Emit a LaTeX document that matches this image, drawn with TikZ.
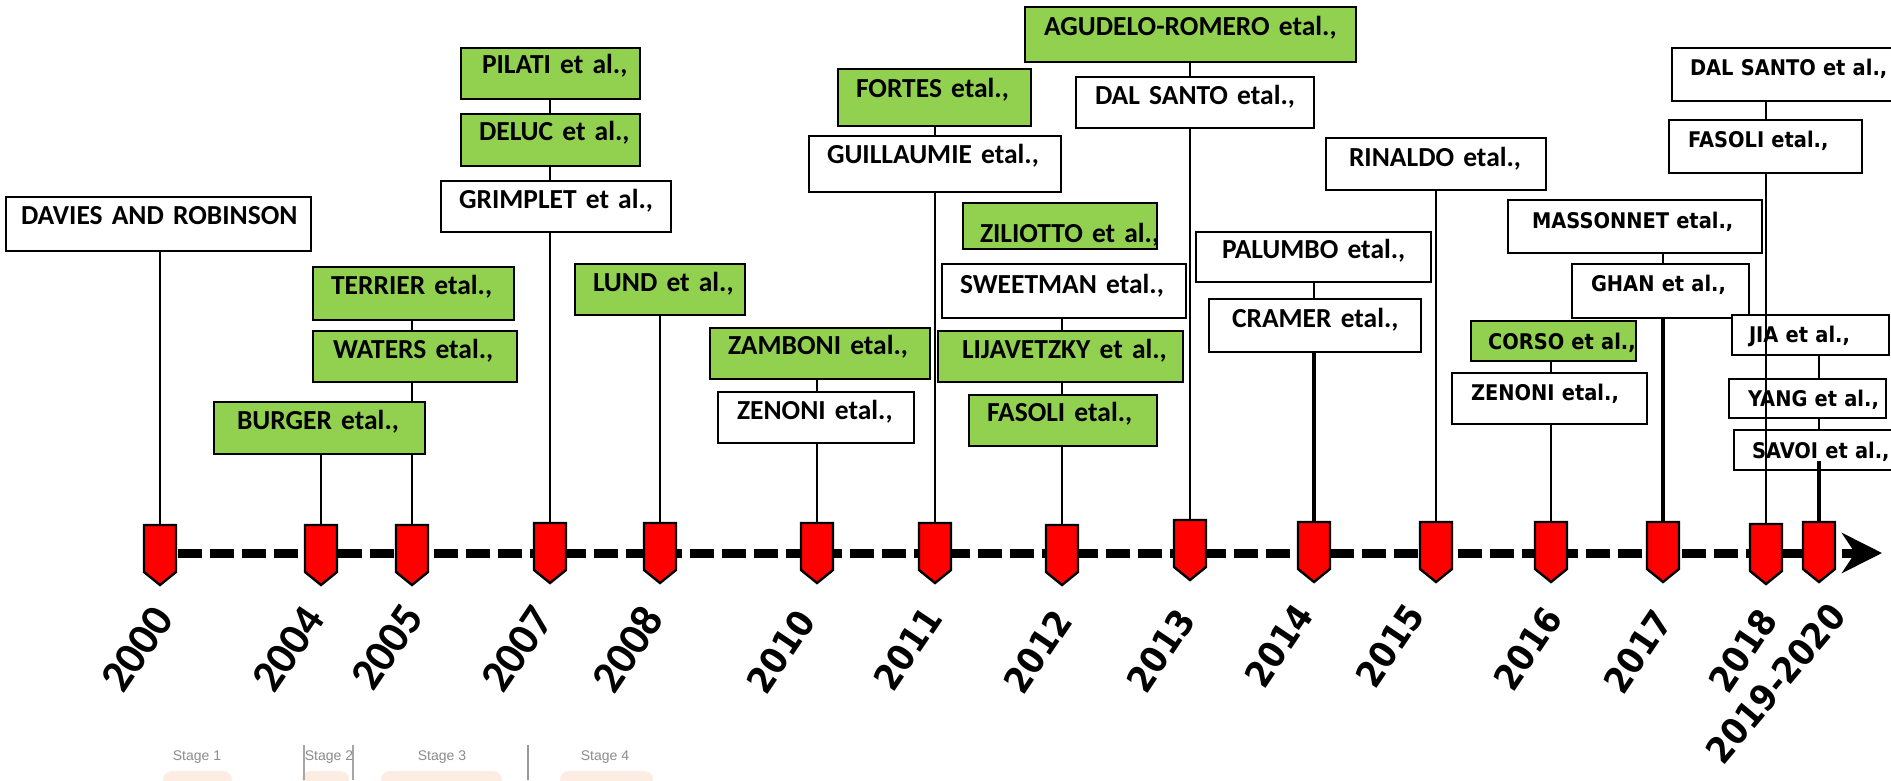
\documentclass[tikz,border=0pt]{standalone}
\usepackage{fontspec}
\setmainfont{Carlito}
\newfontfamily\calfont{Carlito}
\newfontfamily\tahfont[FakeStretch=0.9]{DejaVu Sans}
\newfontfamily\stgfont{Liberation Sans}
\usetikzlibrary{arrows.meta}
\pgfdeclarelayer{bg}
\pgfsetlayers{bg,main}
\definecolor{grn}{RGB}{146,208,80}
\definecolor{redm}{RGB}{255,0,0}
\definecolor{peach}{RGB}{252,236,225}
\tikzset{
 box/.style={draw=black, line width=2.6pt, fill=white, outer sep=0pt, inner ysep=0pt, align=left, anchor=north west},
 gbox/.style={box, fill=grn},
 calf/.style={font=\calfont\bfseries\fontsize{27.5}{30}\selectfont},
 tahf/.style={font=\tahfont\bfseries\fontsize{21.6}{24}\selectfont},
 conn/.style={line width=2.2pt},
 thk/.style={line width=3.6pt},
 mk/.style={draw=black, fill=redm, line width=2.4pt, line join=miter},
 yrc/.style={font=\calfont\bfseries\fontsize{45}{50}\selectfont, rotate=56, anchor=east, inner sep=0pt},
 yrt/.style={font=\tahfont\bfseries\fontsize{36}{40}\selectfont, rotate=56, anchor=east, inner sep=0pt},
 axisline/.style={line width=9pt, dash pattern=on 24pt off 8pt, dash phase=14pt, -{Stealth[length=40pt,width=40pt,inset=13pt]}},
 stage/.style={font=\stgfont\fontsize{14}{16}\selectfont, text=black!45, inner sep=0pt},
}
\newcommand\bx[9][27]{%
 \pgfmathsetmacro\bxW{#6-#4-2*#8}%
 \pgfmathsetmacro\bxD{#7-#5-#1}%
 \node[#3, inner xsep=#8pt, text width=\bxW pt, text height=#1pt, text depth=\bxD pt] (#2) at (#4,#5) {\mbox{#9}};}
\newcommand\drawmk[1]{\draw[mk] (#1) ++(-16,0) -- ++(32,0) -- ++(0,47) -- ++(-16,13) -- ++(-16,-13) -- cycle;}
\begin{document}
\begin{tikzpicture}[x=1pt,y=-1pt]
\path[use as bounding box] (0,0) rectangle (1891,780);
\begin{pgfonlayer}{bg}
\fill[white] (0,0) rectangle (1891,780);
\end{pgfonlayer}
\clip (0,0) rectangle (1891,780);
% marker tops
\coordinate (m2000) at (160,525);
\coordinate (m2004) at (321,525);
\coordinate (m2005) at (412,525);
\coordinate (m2007) at (550,523);
\coordinate (m2008) at (660,523);
\coordinate (m2010) at (817,523);
\coordinate (m2011) at (935,523);
\coordinate (m2012) at (1062,525);
\coordinate (m2013) at (1190,520);
\coordinate (m2014) at (1314,522);
\coordinate (m2015) at (1436,522);
\coordinate (m2016) at (1551,522);
\coordinate (m2017) at (1663,522);
\coordinate (m2018) at (1766,524);
\coordinate (m2019) at (1819,522);
% boxes
\bx{davies}{box,calf}{6}{197}{311}{251}{15}{DAVIES AND ROBINSON}
\bx{terrier}{gbox,calf}{313}{267}{514}{320}{18}{TERRIER etal.,}
\bx{waters}{gbox,calf}{313}{331}{517}{382}{20}{WATERS etal.,}
\bx{burger}{gbox,calf}{214}{402}{425}{454}{23}{BURGER etal.,}
\bx[25]{pilati}{gbox,calf}{461}{48}{640}{99}{21}{PILATI et al.,}
\bx[26]{deluc}{gbox,calf}{461}{114}{640}{166}{18}{DELUC et al.,}
\bx{grimplet}{box,calf}{441}{181}{671}{232}{18}{GRIMPLET et al.,}
\bx{lund}{gbox,calf}{575}{264}{745}{315}{18}{LUND et al.,}
\bx[26]{zamboni}{gbox,calf}{710}{328}{930}{379}{18}{ZAMBONI etal.,}
\bx{zenoniA}{box,calf}{718}{392}{914}{443}{19}{ZENONI etal.,}
\bx[28]{fortes}{gbox,calf}{838}{69}{1031}{126}{18}{FORTES etal.,}
\bx{guill}{box,calf}{809}{136}{1061}{192}{18}{GUILLAUMIE etal.,}
\bx[39]{ziliotto}{gbox,calf}{963}{203}{1157}{249}{17}{ZILIOTTO et al.,}
\bx[29]{sweetman}{box,calf}{942}{264}{1186}{318}{18}{SWEETMAN etal.,}
\bx{lijav}{gbox,calf}{938}{331}{1183}{382}{24}{LIJAVETZKY et al.,}
\bx[26]{fasoliA}{gbox,calf}{969}{395}{1157}{446}{18}{FASOLI etal.,}
\bx[28]{agudelo}{gbox,calf}{1025}{7}{1356}{62}{19}{AGUDELO-ROMERO etal.,}
\bx{dalsantoA}{box,calf}{1076}{77}{1314}{128}{19}{DAL SANTO etal.,}
\bx[28]{rinaldo}{box,calf}{1326}{138}{1546}{190}{23}{RINALDO etal.,}
\bx[26]{palumbo}{box,calf}{1196}{232}{1431}{282}{26}{PALUMBO etal.,}
\bx[28]{cramer}{box,calf}{1209}{299}{1421}{352}{23}{CRAMER etal.,}
\bx[28]{corso}{gbox,tahf}{1471}{321}{1636}{361}{17}{CORSO et al.,}
\bx{zenoniB}{box,tahf}{1452}{373}{1647}{424}{19}{ZENONI etal.,}
\bx[28]{massonnet}{box,tahf}{1508}{200}{1762}{253}{24}{MASSONNET etal.,}
\bx{ghan}{box,tahf}{1572}{264}{1749}{318}{19}{GHAN et al.,}
\bx{dalsantoB}{box,tahf}{1672}{48}{1905}{101}{18}{DAL SANTO et al.,}
\bx{fasoliB}{box,tahf}{1669}{120}{1862}{173}{19}{FASOLI etal.,}
\bx{jia}{box,tahf}{1732}{315}{1889}{355}{17}{JIA et al.,}
\bx{yang}{box,tahf}{1729}{379}{1886}{418}{19}{YANG et al.,}
\bx[28]{savoi}{box,tahf}{1734}{430}{1905}{470}{18}{SAVOI et al.,}
% connectors behind boxes
\begin{pgfonlayer}{bg}
\draw[conn] (davies.south -| m2000) -- (m2000);
\draw[conn] (terrier.south -| m2005) -- (waters.north -| m2005);
\draw[conn] (waters.south -| m2005) -- (m2005);
\draw[conn] (burger.south -| m2004) -- (m2004);
\draw[conn] (pilati.south -| m2007) -- (deluc.north -| m2007);
\draw[conn] (deluc.south -| m2007) -- (grimplet.north -| m2007);
\draw[conn] (grimplet.south -| m2007) -- (m2007);
\draw[conn] (lund.south -| m2008) -- (m2008);
\draw[conn] (zamboni.south -| m2010) -- (zenoniA.north -| m2010);
\draw[conn] (zenoniA.south -| m2010) -- (m2010);
\draw[conn] (fortes.south -| m2011) -- (guill.north -| m2011);
\draw[conn] (guill.south -| m2011) -- (m2011);
\draw[conn] (sweetman.south -| m2012) -- (lijav.north -| m2012);
\draw[conn] (lijav.south -| m2012) -- (fasoliA.north -| m2012);
\draw[conn] (fasoliA.south -| m2012) -- (m2012);
\draw[conn] (agudelo.south -| m2013) -- (dalsantoA.north -| m2013);
\draw[conn] (dalsantoA.south -| m2013) -- (m2013);
\draw[conn] (rinaldo.south -| m2015) -- (m2015);
\draw[conn] (palumbo.south -| m2014) -- (cramer.north -| m2014);
\draw[thk] (cramer.south -| m2014) -- (m2014);
\draw[conn] (corso.south -| m2016) -- (zenoniB.north -| m2016);
\draw[conn] (zenoniB.south -| m2016) -- (m2016);
\draw[conn] (massonnet.south -| m2017) -- (ghan.north -| m2017);
\draw[thk] (ghan.south -| m2017) -- (m2017);
\draw[conn] (jia.south -| m2019) -- (yang.north -| m2019);
\draw[conn] (yang.south -| m2019) -- (savoi.north -| m2019);
\draw[conn] (dalsantoB.south -| m2018) -- (fasoliB.north -| m2018);
\end{pgfonlayer}
% lines drawn over boxes
\draw[conn] (fasoliB.south -| m2018) -- (m2018);
\draw[thk] (savoi.south -| m2019) ++(0,-9) -- (m2019);
% axis
\coordinate (axS) at (160,553);
\coordinate (axE) at (1882,553);
\draw[axisline] (axS) -- (axE);
% markers
\foreach \m in {m2000,m2004,m2005,m2007,m2008,m2010,m2011,m2012,m2013,m2014,m2015,m2016,m2017,m2018,m2019}{\drawmk{\m}}
% years
\node[yrc] (y2000) at (163,611) {2000};
\node[yrc] (y2004) at (314,611) {2004};
\node[yrc] (y2005) at (413,609) {2005};
\node[yrc] (y2007) at (543,611) {2007};
\node[yrc] (y2008) at (653,611) {2008};
\node[yrt] (y2010) at (806,614) {2010};
\node[yrt] (y2011) at (933,611) {2011};
\node[yrt] (y2012) at (1063,614) {2012};
\node[yrt] (y2013) at (1186,613) {2013};
\node[yrt] (y2014) at (1304,608) {2014};
\node[yrt] (y2015) at (1415,608) {2015};
\node[yrt] (y2016) at (1553,611) {2016};
\node[yrt] (y2017) at (1663,614) {2017};
\node[yrt] (y2018) at (1768,613) {2018};
\node[yrt, rotate=-6] (y2019) at (1838,609) {2019-2020};
% faint fragment at the bottom
\fill[peach, rounded corners=9pt] (163,771) rectangle (232,796);
\fill[peach, rounded corners=9pt] (302,771) rectangle (349,796);
\fill[peach, rounded corners=9pt] (381,771) rectangle (502,796);
\fill[peach, rounded corners=9pt] (560,771) rectangle (653,796);
\draw[black!35, line width=1.5pt] (304,745) -- (304,780);
\draw[black!35, line width=1.5pt] (353,745) -- (353,780);
\draw[black!40, line width=2.5pt] (528,745) -- (528,780);
\node[stage] (s1) at (197,757) {Stage 1};
\node[stage] (s2) at (329,757) {Stage 2};
\node[stage] (s3) at (442,757) {Stage 3};
\node[stage] (s4) at (605,757) {Stage 4};
\end{tikzpicture}
\end{document}
